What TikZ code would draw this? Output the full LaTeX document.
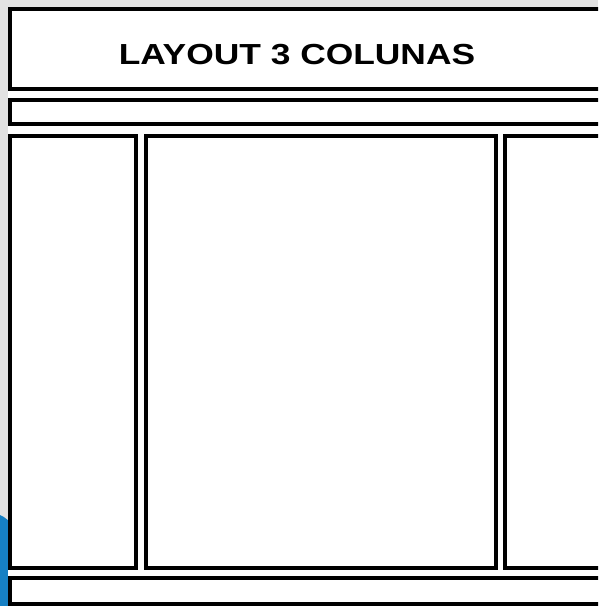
\documentclass[tikz,border=0pt]{standalone}
\usepackage{fontspec}
\setmainfont{Liberation Sans}
\definecolor{slideGrey}{RGB}{226,226,226}
\definecolor{slideBlue}{RGB}{22,128,196}
\usetikzlibrary{positioning}

\begin{document}
\begin{tikzpicture}[
    x=1pt, y=-1pt,
    box/.style={rectangle, draw=black, fill=white, line width=4pt,
                anchor=north west, inner sep=0pt, outer sep=0pt},
    title/.style={font=\fontsize{29}{29}\selectfont\bfseries, xscale=1.22}
  ]
  \clip (0,0) rectangle (598,606);
  \useasboundingbox (0,0) rectangle (598,606);
  % slide background
  \fill[slideGrey] (0,0) rectangle (598,606);
  \fill[slideBlue] (0,515) .. controls (5,517) and (9,521) .. (14,526)
    -- (14,606) -- (0,606) -- cycle;
  \fill[white] (8,7) rectangle (598,606);

  \node[box, minimum width=605, minimum height=80] (header) at (10,9) {};
  \node[title] (titletext) at (297,55) {LAYOUT 3 COLUNAS};

  \node[box, minimum width=605, minimum height=24] (menu) at (10,100) {};

  \node[box, minimum width=126, minimum height=432] (left) at (10,136) {};
  \node[box, minimum width=350, minimum height=432] (center) at (146,136) {};
  \node[box, minimum width=110, minimum height=432] (right) at (505,136) {};

  \node[box, minimum width=605, minimum height=26] (footer) at (10,578) {};
\end{tikzpicture}
\end{document}
